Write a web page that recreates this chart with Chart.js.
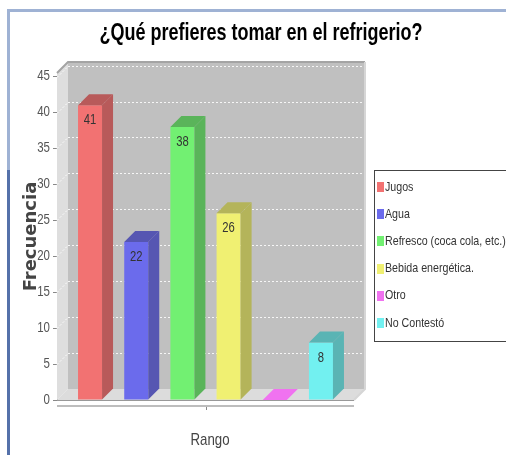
<!DOCTYPE html>
<html>
<head>
<meta charset="utf-8">
<script src="https://cdn.jsdelivr.net/npm/chart.js@4.4.1/dist/chart.umd.min.js"></script>
<style>
    html, body { margin: 0; padding: 0; background: #fff; }
    canvas { display: block; }
</style>
</head>
<body>
<canvas id="refrigerioChart" width="506" height="455"></canvas>
<script>
var categorias = ['Jugos', 'Agua', 'Refresco (coca cola, etc.)', 'Bebida energética.', 'Otro', 'No Contestó'];
var frecuencias = [41, 22, 38, 26, 0, 8];
var yTicks = [0, 5, 10, 15, 20, 25, 30, 35, 40, 45];

var frontColors = ['#f27272', '#6b6bec', '#72f072', '#f0f072', '#f072f0', '#72f0f0'];
var sideColors = ['#b85a5a', '#5656b2', '#5ab45a', '#b4b45a', '#b45ab4', '#5ab4b4'];

var SANS = '"Liberation Sans", Arial, sans-serif';
var DX = 11, DY = 11; // 3d depth

function poly(ctx, pts) {
    ctx.beginPath();
    ctx.moveTo(pts[0][0], pts[0][1]);
    for (var i = 1; i < pts.length; i++) ctx.lineTo(pts[i][0], pts[i][1]);
    ctx.closePath();
    ctx.fill();
}

// no narrow font installed, so squeeze the text horizontally
function narrowText(ctx, text, x, y, font, sx, align, color) {
    ctx.save();
    ctx.translate(x, y);
    ctx.scale(sx, 1);
    ctx.font = font;
    ctx.fillStyle = color;
    ctx.textAlign = align;
    ctx.textBaseline = 'middle';
    ctx.fillText(text, 0, 0);
    ctx.restore();
}

var jfree3d = {
    id: 'jfree3d',
    beforeDatasetsDraw: function (chart) {
        var ctx = chart.ctx, a = chart.chartArea, ys = chart.scales.y;
        var L = a.left, R = a.right, T = a.top, B = a.bottom;
        ctx.save();
        ctx.fillStyle = '#dedede';
        poly(ctx, [[L, T], [L + DX, T - DY], [L + DX, B - DY], [L, B]]);
        ctx.fillStyle = '#c0c0c0';
        ctx.fillRect(L + DX, T - DY, R - L, B - T);
        ctx.strokeStyle = 'rgba(255,255,255,0.85)';
        ctx.lineWidth = 1;
        ctx.setLineDash([2, 2]);
        yTicks.forEach(function (v) {
            if (v === 0) return;
            var py = Math.round(ys.getPixelForValue(v)) + 0.5;
            ctx.beginPath();
            ctx.moveTo(L + DX, py - DY);
            ctx.lineTo(R + DX, py - DY);
            ctx.stroke();
            ctx.beginPath();
            ctx.moveTo(L, py);
            ctx.lineTo(L + DX, py - DY);
            ctx.stroke();
        });
        ctx.setLineDash([]);
        ctx.fillStyle = '#dcdcdc';
        poly(ctx, [[L, B], [R, B], [R + DX, B - DY], [L + DX, B - DY]]);
        ctx.strokeStyle = '#a4a4a4';
        ctx.lineWidth = 2;
        ctx.beginPath();
        ctx.moveTo(L, T);
        ctx.lineTo(L + DX, T - DY);
        ctx.lineTo(R + DX, T - DY);
        ctx.stroke();
        ctx.strokeStyle = '#d6d6d6';
        ctx.beginPath();
        ctx.moveTo(R + DX, T - DY);
        ctx.lineTo(R + DX, B - DY);
        ctx.lineTo(R, B);
        ctx.stroke();
        ctx.restore();
    },
    afterDatasetsDraw: function (chart) {
        var ctx = chart.ctx;
        ctx.save();
        chart.data.datasets.forEach(function (ds, i) {
            var bar = chart.getDatasetMeta(i).data[0];
            var p = bar.getProps(['x', 'y', 'base', 'width'], true);
            var x0 = p.x - p.width / 2, x1 = p.x + p.width / 2;
            var top = p.y, base = p.base;
            var h = base - top;
            if (h > 0.5) {
                ctx.fillStyle = sideColors[i];
                poly(ctx, [[x1, top], [x1 + DX, top - DY], [x1 + DX, base - DY], [x1, base]]);
            }
            ctx.fillStyle = h > 0.5 ? sideColors[i] : frontColors[i];
            poly(ctx, [[x0, top], [x0 + DX, top - DY], [x1 + DX, top - DY], [x1, top]]);
            if (ds.data[0] > 0) {
                narrowText(ctx, String(ds.data[0]), p.x, top + 15, '15px ' + SANS, 0.75, 'center', '#333');
            }
        });
        ctx.restore();
    },
    afterDraw: function (chart) {
        var ctx = chart.ctx, a = chart.chartArea, ys = chart.scales.y;
        ctx.save();
        // x axis lines
        ctx.fillStyle = '#999';
        ctx.fillRect(a.left, a.bottom, a.right - a.left, 1);
        ctx.fillStyle = '#bdbdbd';
        ctx.fillRect(a.left, a.bottom + 5, a.right - a.left, 2);
        ctx.fillStyle = '#888';
        ctx.fillRect(Math.round((a.left + a.right) / 2), a.bottom + 7, 1, 3);
        // y tick labels
        ys.ticks.forEach(function (t) {
            narrowText(ctx, String(t.value), a.left - 7, ys.getPixelForValue(t.value), '14px ' + SANS, 0.82, 'right', '#555');
        });
        // titles
        narrowText(ctx, '¿Qué prefieres tomar en el refrigerio?', 261, 33, 'bold 24px ' + SANS, 0.75, 'center', '#000');
        narrowText(ctx, 'Rango', 210, 440, '17px ' + SANS, 0.78, 'center', '#444');
        // legend
        ctx.strokeStyle = '#444';
        ctx.lineWidth = 1;
        ctx.strokeRect(374.5, 170.5, 140, 171);
        chart.data.datasets.forEach(function (ds, i) {
            var cy = 187 + i * 27.2;
            ctx.fillStyle = frontColors[i];
            ctx.fillRect(377, Math.round(cy - 5), 7, 10);
            narrowText(ctx, ds.label, 385, cy, '13px ' + SANS, 0.82, 'left', '#333');
        });
        // window frame
        ctx.fillStyle = '#9fb2d4';
        ctx.fillRect(7, 9, 499, 3);
        ctx.fillRect(7, 9, 3, 161);
        ctx.fillStyle = '#5571aa';
        ctx.fillRect(7, 170, 3, 285);
        ctx.restore();
    }
};

document.addEventListener('DOMContentLoaded', function () {
    var ctx = document.getElementById('refrigerioChart').getContext('2d');

    var datasets = categorias.map(function (cat, i) {
        return {
            label: cat,
            data: [frecuencias[i]],
            backgroundColor: frontColors[i],
            borderWidth: 0,
            categoryPercentage: 0.933,
            barPercentage: 0.52
        };
    });

    var refrigerioChart = new Chart(ctx, {
        type: 'bar',
        data: {
            labels: [''],
            datasets: datasets
        },
        options: {
            responsive: false,
            animation: false,
            layout: {
                padding: { left: 10, top: 73, right: 152, bottom: 0 }
            },
            scales: {
                x: {
                    ticks: { display: false },
                    grid: { display: false },
                    border: { display: false },
                    afterFit: function (scale) { scale.height = 55; }
                },
                y: {
                    min: 0,
                    max: 45.5,
                    afterBuildTicks: function (scale) {
                        scale.ticks = yTicks.map(function (v) { return { value: v }; });
                    },
                    afterFit: function (scale) { scale.width = 47; },
                    ticks: { display: false },
                    grid: {
                        drawOnChartArea: false,
                        drawTicks: true,
                        tickLength: 4,
                        tickColor: '#888'
                    },
                    border: { display: true, color: '#888' },
                    title: {
                        display: true,
                        text: 'Frecuencia',
                        color: '#444',
                        font: { family: '"DejaVu Sans", sans-serif', size: 18, weight: 'bold' },
                        padding: { top: 11, bottom: 0 }
                    }
                }
            },
            plugins: {
                legend: { display: false },
                tooltip: { enabled: false }
            }
        },
        plugins: [jfree3d]
    });
});
</script>
</body>
</html>
